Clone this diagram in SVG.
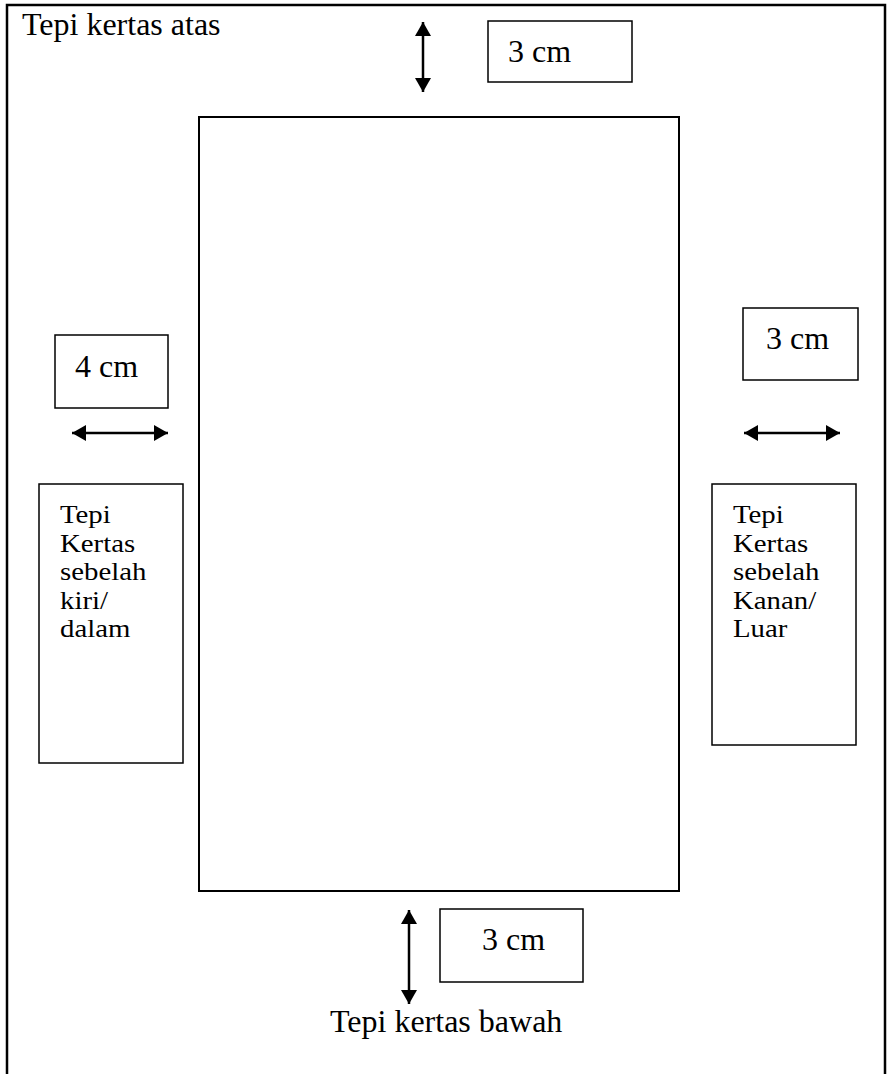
<svg xmlns="http://www.w3.org/2000/svg" width="891" height="1074" viewBox="0 0 891 1074">
<style>
.frame{fill:#fff;stroke:#000;stroke-width:2.5}
.box{fill:#fff;stroke:#000;stroke-width:1.5}
.main{fill:#fff;stroke:#000;stroke-width:2}
.lbl{font-family:"Liberation Serif","Times New Roman",serif;font-size:32px;fill:#000}
.side{font-family:"Liberation Serif","Times New Roman",serif;font-size:25.5px;fill:#000}
.arr{stroke:#000;stroke-width:2.5;fill:none;marker-start:url(#ah);marker-end:url(#ah)}
</style>
<defs>
<marker id="ah" viewBox="0 0 14 16" refX="14" refY="8" markerWidth="14" markerHeight="16" markerUnits="userSpaceOnUse" orient="auto-start-reverse">
<path d="M0,0 L14,8 L0,16 z" fill="#000"/>
</marker>
</defs>
<rect width="891" height="1074" fill="#fff"/>
<g id="page">
<path class="frame" d="M7,1080 L7,5 L885,5 L885,1080"/>
<text class="lbl" x="22" y="35">Tepi kertas atas</text>
<text class="lbl" x="330" y="1032">Tepi kertas bawah</text>
</g>
<g id="text-area">
<rect class="main" x="199" y="117" width="480" height="774"/>
</g>
<g id="top-margin">
<rect class="box" x="488" y="21" width="144" height="61"/>
<text class="lbl" x="508" y="62">3 cm</text>
</g>
<g id="left-margin">
<rect class="box" x="55" y="335" width="113" height="73"/>
<text class="lbl" x="75" y="377">4 cm</text>
</g>
<g id="right-margin">
<rect class="box" x="743" y="308" width="115" height="72"/>
<text class="lbl" x="766" y="349">3 cm</text>
</g>
<g id="bottom-margin">
<rect class="box" x="440" y="909" width="143" height="73"/>
<text class="lbl" x="482" y="950">3 cm</text>
</g>
<g id="left-edge">
<rect class="box" x="39" y="484" width="144" height="279"/>
<g transform="translate(60 0) scale(1.13 1)">
<text class="side" x="0" y="523">Tepi</text>
<text class="side" x="0" y="552">Kertas</text>
<text class="side" x="0" y="580.5">sebelah</text>
<text class="side" x="0" y="609">kiri/</text>
<text class="side" x="0" y="637.5">dalam</text>
</g>
</g>
<g id="right-edge">
<rect class="box" x="712" y="484" width="144" height="261"/>
<g transform="translate(733 0) scale(1.13 1)">
<text class="side" x="0" y="523">Tepi</text>
<text class="side" x="0" y="552">Kertas</text>
<text class="side" x="0" y="580.5">sebelah</text>
<text class="side" x="0" y="609">Kanan/</text>
<text class="side" x="0" y="637.5">Luar</text>
</g>
</g>
<g id="connectors">
<line class="arr" x1="423" y1="22" x2="423" y2="92"/>
<line class="arr" x1="72" y1="433" x2="168" y2="433"/>
<line class="arr" x1="744" y1="433" x2="840" y2="433"/>
<line class="arr" x1="409" y1="910" x2="409" y2="1004"/>
</g>
</svg>
